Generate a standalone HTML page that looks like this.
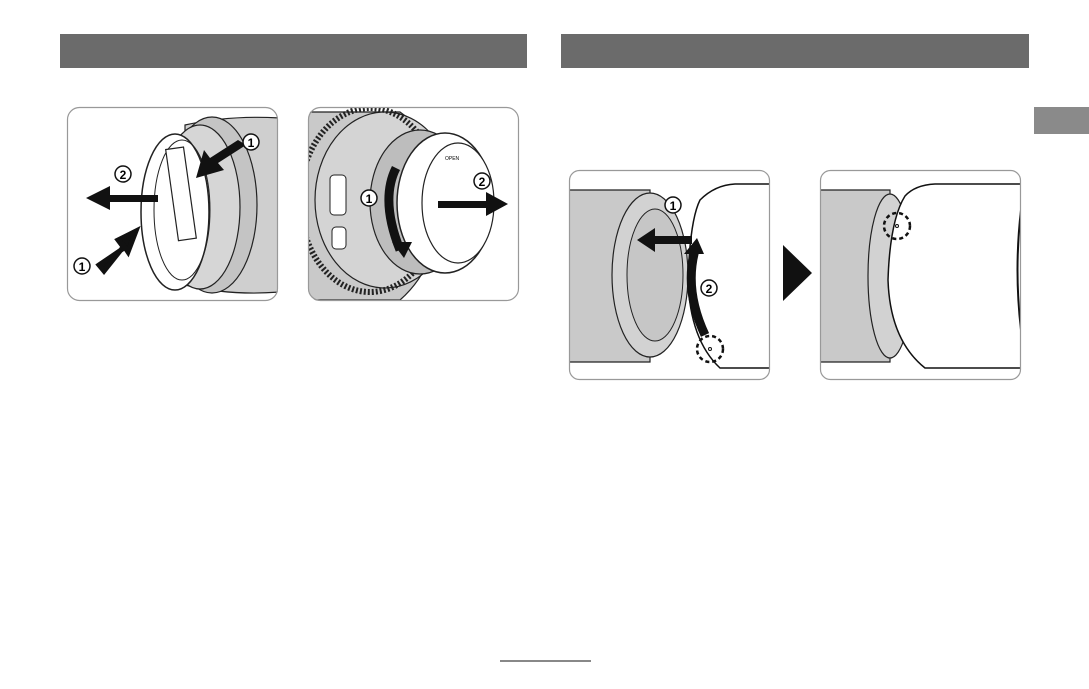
<!DOCTYPE html>
<html><head><style>
html,body{margin:0;padding:0;background:#fff;}
body{width:1089px;height:689px;position:relative;overflow:hidden;font-family:"Liberation Sans",sans-serif;}
</style></head><body>
<svg width="1089" height="689" viewBox="0 0 1089 689" xmlns="http://www.w3.org/2000/svg" style="position:absolute;left:0;top:0">
<defs>
<clipPath id="c1"><rect x="67" y="107" width="211" height="194" rx="12"/></clipPath>
<clipPath id="c2"><rect x="308" y="107" width="211" height="194" rx="12"/></clipPath>
<clipPath id="c3"><rect x="569" y="170" width="201" height="210" rx="10"/></clipPath>
<clipPath id="c4"><rect x="820" y="170" width="201" height="210" rx="10"/></clipPath>
</defs>
<rect x="60" y="34" width="467" height="34" fill="#6b6b6b"/>
<rect x="561" y="34" width="468" height="34" fill="#6b6b6b"/>
<rect x="1034" y="107" width="55" height="27" fill="#8a8a8a"/>

<!-- Panel 1 -->
<g clip-path="url(#c1)">
<rect x="67" y="107" width="211" height="194" fill="#fff"/>
<path d="M185 125 Q230 115 280 118 L280 292 Q230 296 185 285 Z" fill="#cfcfcf" stroke="#222" stroke-width="1.2"/>
<ellipse cx="212" cy="205" rx="45" ry="88" fill="#c4c4c4" stroke="#222" stroke-width="1.2"/>
<ellipse cx="200" cy="207" rx="40" ry="82" fill="#d6d6d6" stroke="#222" stroke-width="1.2"/>
<ellipse cx="175" cy="212" rx="34" ry="78" fill="#fff" stroke="#222" stroke-width="1.5"/>
<ellipse cx="182" cy="210" rx="28" ry="70" fill="none" stroke="#222" stroke-width="1"/>
<rect x="172" y="148" width="18" height="92" fill="#fff" stroke="#222" stroke-width="1.2" transform="rotate(-8 180 194)"/>
<polygon points="238,140 210,158 204,150 196,178 224,170 218,163 246,145" fill="#111"/>
<polygon points="158,195 110,195 110,186 86,198 110,210 110,202 158,202" fill="#111"/>
<polygon points="99,265 124,248 118,240 136,231 128,252 124,246 104,271" fill="#111" stroke="#111" stroke-width="5"/>
</g>
<rect x="67.5" y="107.5" width="210" height="193" rx="12" fill="none" stroke="#999" stroke-width="1.2"/>
<circle cx="251" cy="142" r="8" fill="#fff" stroke="#111" stroke-width="1.5"/><text x="251" y="147" font-size="12" font-weight="bold" text-anchor="middle">1</text>
<circle cx="123" cy="174" r="8" fill="#fff" stroke="#111" stroke-width="1.5"/><text x="123" y="179" font-size="12" font-weight="bold" text-anchor="middle">2</text>
<circle cx="82" cy="266" r="8" fill="#fff" stroke="#111" stroke-width="1.5"/><text x="82" y="271" font-size="12" font-weight="bold" text-anchor="middle">1</text>

<!-- Panel 2 -->
<g clip-path="url(#c2)">
<rect x="308" y="107" width="211" height="194" fill="#fff"/>
<path d="M300 112 L400 112 Q440 140 440 200 Q440 265 400 300 L300 300 Z" fill="#c9c9c9" stroke="#222" stroke-width="1.2"/>
<ellipse cx="385" cy="200" rx="70" ry="88" fill="#d4d4d4" stroke="#222" stroke-width="1.2"/>
<ellipse cx="370" cy="200" rx="70" ry="92" fill="none" stroke="#222" stroke-width="6" stroke-dasharray="2 2"/>
<ellipse cx="420" cy="202" rx="50" ry="72" fill="#bdbdbd" stroke="#222" stroke-width="1.2"/>
<ellipse cx="445" cy="203" rx="48" ry="70" fill="#fff" stroke="#222" stroke-width="1.5"/>
<ellipse cx="458" cy="203" rx="36" ry="60" fill="#fff" stroke="#222" stroke-width="1.2"/>
<rect x="330" y="175" width="16" height="40" rx="4" fill="#fff" stroke="#222"/>
<rect x="332" y="227" width="14" height="22" rx="4" fill="#fff" stroke="#222"/>
<path d="M396 168 Q380 200 400 250" fill="none" stroke="#111" stroke-width="9"/>
<polygon points="392,242 412,242 404,258" fill="#111"/>
<polygon points="438,201 486,201 486,192 508,204 486,216 486,208 438,208" fill="#111"/>
</g>
<rect x="308.5" y="107.5" width="210" height="193" rx="12" fill="none" stroke="#999" stroke-width="1.2"/>
<circle cx="369" cy="198" r="8" fill="#fff" stroke="#111" stroke-width="1.5"/><text x="369" y="203" font-size="12" font-weight="bold" text-anchor="middle">1</text>
<circle cx="482" cy="181" r="8" fill="#fff" stroke="#111" stroke-width="1.5"/><text x="482" y="186" font-size="12" font-weight="bold" text-anchor="middle">2</text>
<text x="445" y="160" font-size="5">OPEN</text>

<!-- Panel 3 -->
<g clip-path="url(#c3)">
<rect x="569" y="170" width="201" height="210" fill="#fff"/>
<path d="M560 190 L650 190 L650 362 L560 362 Z" fill="#c9c9c9" stroke="#222" stroke-width="1.2"/>
<ellipse cx="650" cy="275" rx="38" ry="82" fill="#d2d2d2" stroke="#222" stroke-width="1.2"/>
<ellipse cx="655" cy="275" rx="28" ry="66" fill="#c6c6c6" stroke="#222" stroke-width="1"/>
<path d="M700 200 Q715 185 735 184 L780 184 L780 368 L720 368 Q690 340 688 280 Q690 220 700 200 Z" fill="#fff" stroke="#111" stroke-width="1.5"/>
<polygon points="692,236 655,236 655,228 637,240 655,252 655,244 692,244" fill="#111"/>
<path d="M705 335 Q684 290 695 250" fill="none" stroke="#111" stroke-width="9"/>
<polygon points="684,254 704,254 697,238" fill="#111"/>
<circle cx="710" cy="349" r="13" fill="none" stroke="#111" stroke-width="2.5" stroke-dasharray="4 3"/>
<circle cx="710" cy="349" r="1.5" fill="none" stroke="#111"/>
</g>
<rect x="569.5" y="170.5" width="200" height="209" rx="10" fill="none" stroke="#999" stroke-width="1.2"/>
<circle cx="673" cy="205" r="8" fill="#fff" stroke="#111" stroke-width="1.5"/><text x="673" y="210" font-size="12" font-weight="bold" text-anchor="middle">1</text>
<circle cx="709" cy="288" r="8" fill="#fff" stroke="#111" stroke-width="1.5"/><text x="709" y="293" font-size="12" font-weight="bold" text-anchor="middle">2</text>

<polygon points="783,245 812,273 783,301" fill="#111"/>

<!-- Panel 4 -->
<g clip-path="url(#c4)">
<rect x="820" y="170" width="201" height="210" fill="#fff"/>
<path d="M810 190 L890 190 L890 362 L810 362 Z" fill="#c9c9c9" stroke="#222" stroke-width="1.2"/>
<ellipse cx="890" cy="276" rx="22" ry="82" fill="#d2d2d2" stroke="#222" stroke-width="1.2"/>
<path d="M905 196 Q915 185 935 184 L1030 184 L1030 368 L925 368 Q890 340 888 280 Q890 220 905 196 Z" fill="#fff" stroke="#111" stroke-width="1.5"/>
<circle cx="897" cy="226" r="13" fill="none" stroke="#111" stroke-width="2.5" stroke-dasharray="4 3"/>
<circle cx="897" cy="226" r="1.5" fill="none" stroke="#111"/>
<path d="M1021 210 Q1014 270 1021 330" fill="none" stroke="#111" stroke-width="2"/>
</g>
<rect x="820.5" y="170.5" width="200" height="209" rx="10" fill="none" stroke="#999" stroke-width="1.2"/>

<line x1="500" y1="661" x2="591" y2="661" stroke="#111" stroke-width="1"/>
</svg>
</body></html>
